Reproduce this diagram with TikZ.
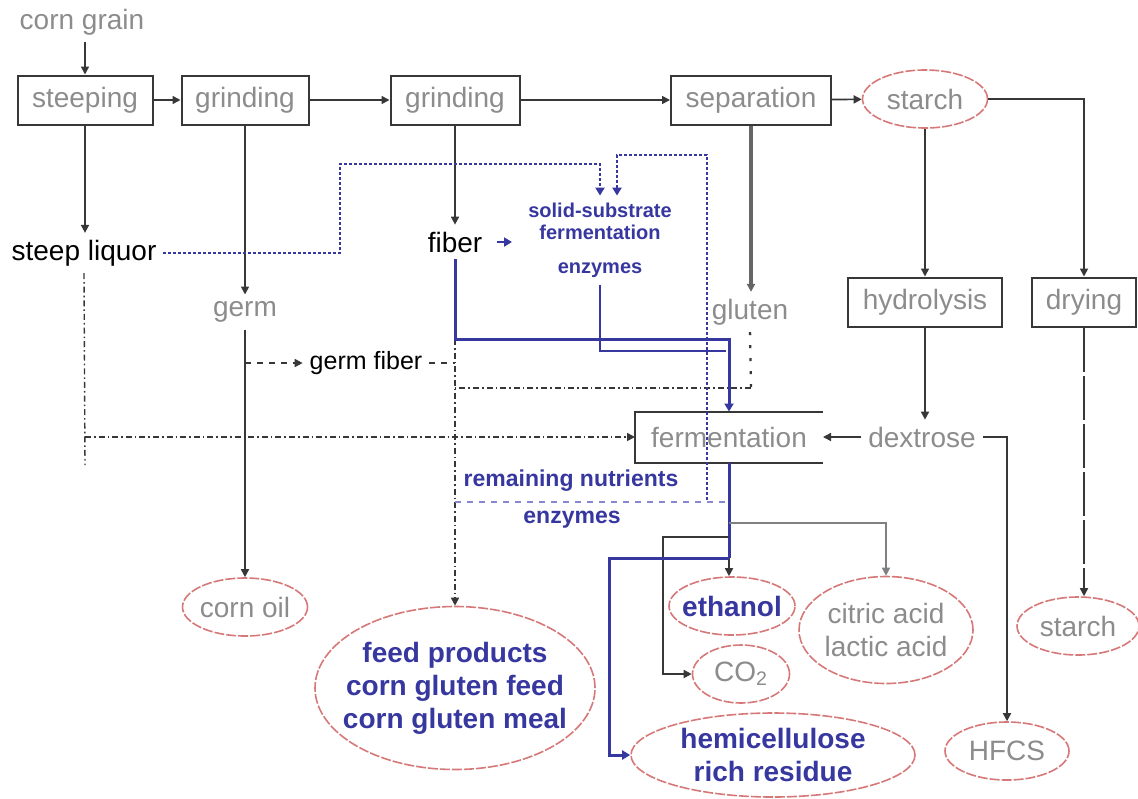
\documentclass[tikz,border=0pt]{standalone}
\usepackage{fontspec}
\setmainfont{Liberation Sans}
\usepackage{tikz}
\usetikzlibrary{arrows.meta,shapes.geometric}
\definecolor{txtgray}{RGB}{140,140,140}
\definecolor{linegray}{RGB}{55,55,55}
\definecolor{flowblue}{RGB}{55,55,160}
\definecolor{lineblue}{RGB}{135,135,210}
\definecolor{ovalred}{RGB}{215,120,120}

\begin{document}
\begin{tikzpicture}[x=0.5pt,y=-0.5pt,
  every node/.style={font=\fontsize{14}{16.5}\selectfont},
  box/.style={draw=linegray,line width=1pt,text=txtgray,minimum height=24.5pt,inner sep=0pt},
  oval/.style={ellipse,draw=ovalred,dash pattern=on 5pt off 1pt,line width=0.8pt,inner sep=0pt,align=center},
  gtxt/.style={text=txtgray},
  btxt/.style={text=flowblue,font=\bfseries\fontsize{14}{16.5}\selectfont},
  stxt/.style={text=flowblue,align=center,font=\bfseries\fontsize{10}{11}\selectfont},
  mtxt/.style={text=flowblue,font=\bfseries\fontsize{11.5}{13}\selectfont},
  arr/.style={draw=linegray,line width=0.8pt,-{Triangle[length=4pt,width=4pt]}},
  dashdot/.style={draw=linegray,line width=0.7pt,dash pattern=on 3pt off 1.5pt on 0.8pt off 1.5pt},
  bflow/.style={draw=flowblue,line width=1.5pt},
  bdots/.style={draw=flowblue,line width=1.4pt,dash pattern=on 1.4pt off 1.1pt},
  btip/.style={-{Triangle[length=4pt,width=4.5pt]}}]
  \useasboundingbox (0,0) rectangle (1138,798);

  % Main process line
  \node[gtxt] (grain) at (82,22) {corn grain};
  \node[box,minimum width=67.5pt] (steep) at (85,100) {steeping};
  \node[box,minimum width=63.5pt] (grind1) at (245,100) {grinding};
  \node[box,minimum width=64.5pt] (grind2) at (455,100) {grinding};
  \node[box,minimum width=80pt] (sep) at (751,100) {separation};
  \node[oval,gtxt,minimum width=62.5pt,minimum height=29pt] (starch1) at (925,99) {starch};
  \node[box,minimum width=77pt] (hydro) at (925,302) {hydrolysis};
  \node[box,minimum width=52pt] (dry) at (1084,302) {drying};
  \node[gtxt] (dext) at (922,437) {dextrose};
  \node[box,draw=none,minimum width=93pt] (ferm) at (729,437) {fermentation};
  \draw[linegray,line width=1pt] (ferm.north east) -- (ferm.north west)
    -- (ferm.south west) -- (ferm.south east);

  % Side streams
  \node (liquor) at (84,253) {steep liquor};
  \node[gtxt] (germ) at (245,312) {germ};
  \node (fiber) at (455,242) {fiber};
  \node[gtxt] (gluten) at (750,312) {gluten};
  \node[font=\fontsize{12.5}{14}\selectfont] (gfiber) at (366,363) {germ fiber};
  \node[stxt] (ssf) at (600,221) {solid-substrate\\fermentation};
  \node[stxt] (enz1) at (600,270) {enzymes};
  \node[mtxt] (remain) at (571,481) {remaining nutrients};
  \node[mtxt] (enz2) at (572,520) {enzymes};

  % Products
  \node[oval,gtxt,minimum width=62.5pt,minimum height=29pt,inner xsep=-1pt] (oil) at (245,607) {corn oil};
  \node[oval,btxt,minimum width=140pt,minimum height=81.5pt,inner xsep=-7pt] (feed) at (455,688)
    {feed products\\corn gluten feed\\corn gluten meal};
  \node[oval,btxt,minimum width=63pt,minimum height=29pt,inner xsep=-3pt] (ethanol) at (732,606) {ethanol};
  \node[oval,gtxt,minimum width=48.5pt,minimum height=29pt] (co2) at (741,674) {CO\textsubscript{2}};
  \node[oval,gtxt,minimum width=87pt,minimum height=53.5pt] (acids) at (886,630)
    {citric acid\\lactic acid};
  \node[oval,gtxt,minimum width=61pt,minimum height=29pt] (starch2) at (1078,626) {starch};
  \node[oval,gtxt,minimum width=62pt,minimum height=29pt] (hfcs) at (1007,751) {HFCS};
  \node[oval,btxt,minimum width=142pt,minimum height=42pt] (hemi) at (773,755)
    {hemicellulose\\rich residue};

  % Bend points
  \coordinate (fb) at (455,339);
  \coordinate (fturn) at (729,339);
  \coordinate (ej) at (726,351);
  \coordinate (gb) at (751,388);
  \coordinate (gl) at (455,388);
  \coordinate (lb) at (85,465);
  \coordinate (lj) at (85,437);
  \coordinate (rn) at (707,500);
  \coordinate (nl) at (455,502);
  \coordinate (nr) at (729,502);
  \coordinate (fo) at (729,558);
  \coordinate (fa) at (729,523);
  \coordinate (fc) at (729,537);

  % Main line arrows
  \draw[arr] (steep.north |- grain.south) -- (steep.north);
  \draw[arr] (steep) -- (grind1);
  \draw[arr] (grind1) -- (grind2);
  \draw[arr] (grind2) -- (sep);
  \draw[arr] (sep) -- (starch1);
  \draw[arr] (starch1.east) -| (dry.north);
  \draw[arr] (starch1.south) -- (hydro.north);
  \draw[arr] (hydro.south) -- (hydro.south |- dext.north);
  \draw[arr] (dext.west) -- (ferm.east);
  \draw[arr] (dext.east) -| (hfcs.north);
  \draw[arr,dash pattern=on 22pt off 2pt] (dry.south) -- (dry.south |- starch2.north);

  % Side stream arrows
  \draw[arr] (steep.south) -- (steep.south |- liquor.north);
  \draw[arr] (grind1.south) -- (germ.north);
  \draw[arr] (grind2.south) -- (fiber.north);
  \draw[arr,draw=black!60,line width=1.6pt] (sep.south) -- (sep.south |- gluten.north);
  \draw[arr] (germ.south) -- (oil.north);
  \draw[arr,dashed] (germ.south |- gfiber.west) -- (gfiber.west);
  \draw[linegray,dashed,line width=0.7pt] (gfiber.east) -- (fb |- gfiber.east);
  \draw[dashdot] (liquor.south) -- (lb);
  \draw[dashdot,arr] (lj) -- (ferm.west);
  \draw[dashdot,arr] (fb) -- (feed.north);
  \draw[linegray,line width=1.2pt,dash pattern=on 1.5pt off 5pt] (gluten.south) -- (gb);
  \draw[dashdot] (gb) -- (gl);

  % Solid-substrate fermentation loop
  \draw[bflow,btip] (fiber.south) -- (fb) -- (fturn) -- (ferm.north);
  \draw[draw=flowblue,line width=1pt] (enz1.south) |- (ej);
  \draw[draw=flowblue,line width=1pt,btip] ([xshift=21pt]fiber.center) -- +(15,0);
  \draw[bdots,btip] (liquor.east) -- (340,253) -- (340,164) -- (600,164) -- (ssf.north);
  \draw[bdots,btip] (rn) -- (707,155) -- (617,155) -- ([xshift=8.5pt]ssf.north);
  \draw[draw=lineblue,line width=0.8pt,dashed] (nl) -- (nr);

  % Fermentation products
  \draw[bflow] (ferm.south) -- (fo);
  \draw[arr] (fo) -- (fo |- ethanol.north);
  \draw[arr,draw=gray] (fa) -| (acids.north);
  \draw[arr] (fc) -- (663,537) |- (co2.west);
  \draw[bflow,draw=flowblue,btip] (fo) -- (609,558) |- (hemi.west);
\end{tikzpicture}
\end{document}
